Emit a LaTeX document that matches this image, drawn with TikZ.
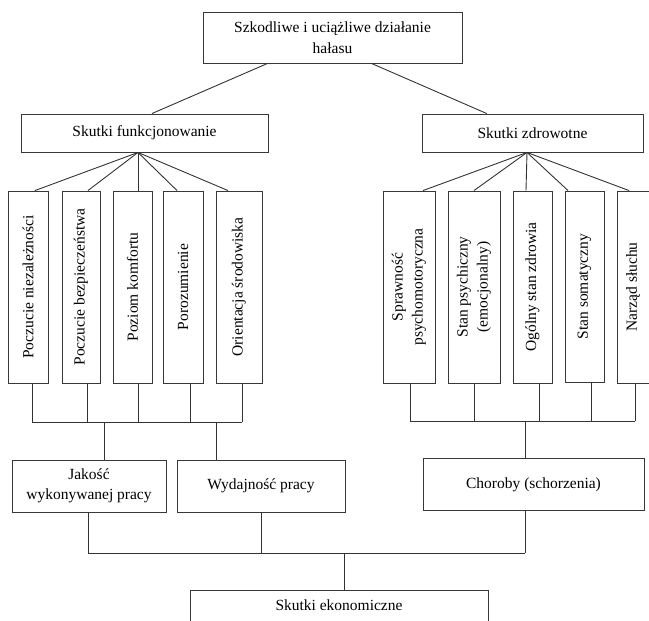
\documentclass[tikz,border=0pt]{standalone}
\usepackage{fontspec}
\setmainfont{Liberation Serif}
\usetikzlibrary{calc}
\begin{document}
\begin{tikzpicture}[x=1pt,y=-1pt,
  box/.style={draw=black!78, line width=0.9pt, rectangle, inner sep=0pt, align=center, font=\fontsize{15.5}{20.5}\selectfont},
  vtext/.style={rotate=90, align=center, inner sep=0pt, font=\fontsize{15.5}{20}\selectfont},
  conn/.style={draw=black!80, line width=0.9pt}]
\clip (0,0) rectangle (649,621);
% top
\node[box, minimum width=259, minimum height=51] (top) at (332.5,37.5) {Szkodliwe i uciążliwe działanie\\hałasu};
\node[box, minimum width=247, minimum height=38] (funk) at (144.5,133) {Skutki funkcjonowanie};
\node[box, minimum width=221, minimum height=38] (zdr) at (532.5,133) {Skutki zdrowotne};
% left children
\node[box, minimum width=40, minimum height=192] (a1) at (28,287) {};
\node[box, minimum width=38, minimum height=192] (a2) at (81,287) {};
\node[box, minimum width=39, minimum height=192] (a3) at (132.5,287) {};
\node[box, minimum width=40, minimum height=192] (a4) at (183,287) {};
\node[box, minimum width=46, minimum height=192] (a5) at (239,287) {};
\node[vtext] (ta1) at (a1) {Poczucie niezależności};
\node[vtext] (ta2) at (a2) {Poczucie bezpieczeństwa};
\node[vtext] (ta3) at (a3) {Poziom komfortu};
\node[vtext] (ta4) at (a4) {Porozumienie};
\node[vtext] (ta5) at (a5) {Orientacja środowiska};
% right children
\node[box, minimum width=52, minimum height=192] (b1) at (409,287) {};
\node[box, minimum width=52, minimum height=192] (b2) at (474,287) {};
\node[box, minimum width=39, minimum height=192] (b3) at (532.5,287) {};
\node[box, minimum width=39, minimum height=191] (b4) at (584.5,286.5) {};
\node[box, minimum width=38, minimum height=192] (b5) at (636,287) {};
\node[vtext] (tb1) at (b1) {Sprawność\\psychomotoryczna};
\node[vtext] (tb2) at (b2) {Stan psychiczny\\(emocjonalny)};
\node[vtext] (tb3) at (b3) {Ogólny stan zdrowia};
\node[vtext] (tb4) at (b4) {Stan somatyczny};
\node[vtext] (tb5) at ($(b5)+(-3,0)$) {Narząd słuchu};
% lower row
\node[box, minimum width=154, minimum height=52] (jak) at (89,486) {Jakość\\wykonywanej pracy};
\node[box, minimum width=168, minimum height=52] (wyd) at (261,486) {Wydajność pracy};
\node[box, minimum width=221, minimum height=52] (chor) at (533.5,484.5) {Choroby (schorzenia)};
\node[box, anchor=north, minimum width=298, text height=20, text depth=40] (eko) at (339,590) {Skutki ekonomiczne};
% top connectors
\draw[conn] ($(top.south west)!0.25!(top.south east)$) -- ($(funk.north west)!0.53!(funk.north east)$);
\draw[conn] ($(top.south west)!0.65!(top.south east)$) -- ($(zdr.north west)!0.294!(zdr.north east)$);
% fans
\coordinate (fL) at ($(funk.south)+(-6.5,0)$);
\draw[conn] (fL) -- ($(a1.north)+(7,0)$);
\draw[conn] (fL) -- ($(a2.north)+(7,0)$);
\draw[conn] (fL) -- ($(a3.north)+(5.5,0)$);
\draw[conn] (fL) -- ($(a4.north)+(-6,0)$);
\draw[conn] (fL) -- ($(a5.north)+(-11,0)$);
\coordinate (fR) at ($(zdr.south)+(-5.5,0)$);
\draw[conn] (fR) -- ($(b1.north)+(14,0)$);
\draw[conn] (fR) -- ($(b2.north)+(0,0)$);
\draw[conn] (fR) -- ($(b3.north)+(-6.5,0)$);
\draw[conn] (fR) -- ($(b4.north)+(-16.5,0)$);
\draw[conn] (fR) -- ($(b5.north)+(-7,0)$);
% left bus
\coordinate (l1) at (32,422);
\coordinate (l2) at (87,422);
\coordinate (l3) at (138,422);
\coordinate (l4) at (190,422);
\coordinate (l5) at (242,422);
\foreach \i in {1,...,5} \draw[conn] (a\i.south -| l\i) -- (l\i);
\draw[conn] (l1) -- (l5);
\coordinate (ld1) at (104,422);
\coordinate (ld2) at (216,422);
\draw[conn] (ld1) -- (ld1 |- jak.north);
\draw[conn] (ld2) -- (ld2 |- wyd.north);
% right bus
\coordinate (r1) at (410,421);
\coordinate (r2) at (474,421);
\coordinate (r3) at (539,421);
\coordinate (r4) at (591,421);
\coordinate (r5) at (635,421);
\foreach \i in {1,...,5} \draw[conn] (b\i.south -| r\i) -- (r\i);
\draw[conn] (r1) -- (r5);
\coordinate (rd) at (525,421);
\draw[conn] (rd) -- (rd |- chor.north);
% bottom bus
\coordinate (e1) at (88,553);
\coordinate (e2) at (261,553);
\coordinate (e3) at (525,553);
\coordinate (ed) at (344,553);
\draw[conn] (jak.south -| e1) -- (e1);
\draw[conn] (wyd.south -| e2) -- (e2);
\draw[conn] (chor.south -| e3) -- (e3);
\draw[conn] (e1) -- (e3);
\draw[conn] (ed) -- (ed |- eko.north);
\end{tikzpicture}
\end{document}
